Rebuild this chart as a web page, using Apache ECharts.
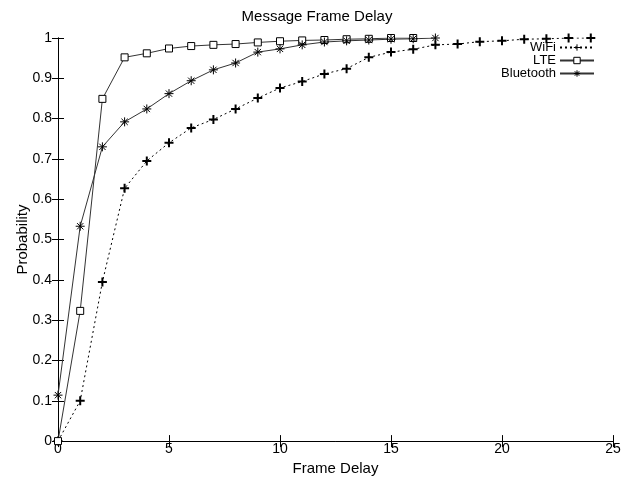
<!DOCTYPE html>
<html><head><meta charset="utf-8">
<script src="https://cdn.jsdelivr.net/npm/echarts@6/dist/echarts.min.js"></script>
<style>html,body{margin:0;padding:0;background:#fff}#c{width:634px;height:481px}</style>
</head><body><div id="c"></div>
<script>
const chartTitle = 'Message Frame Delay';
const xName = 'Frame Delay';
const yName = 'Probability';
const seriesNames = ['WiFi', 'LTE', 'Bluetooth'];
const wifiX = [0,1,2,3,4,5,6,7,8,9,10,11,12,13,14,15,16,17,18,19,20,21,22,23,24];
const wifiY = [0,0.10,0.395,0.627,0.695,0.740,0.777,0.798,0.824,0.851,0.876,0.892,0.911,0.924,0.952,0.965,0.972,0.983,0.985,0.991,0.993,0.997,0.998,1.0,1.0];
const lteX = [0,1,2,3,4,5,6,7,8,9,10,11,12,13,14,15,16];
const lteY = [0,0.323,0.849,0.952,0.962,0.974,0.980,0.983,0.985,0.989,0.992,0.994,0.995,0.997,0.998,1.0,1.0];
const btX = [0,1,2,3,4,5,6,7,8,9,10,11,12,13,14,15,16,17];
const btY = [0.114,0.533,0.730,0.792,0.824,0.862,0.894,0.921,0.938,0.965,0.973,0.983,0.990,0.993,0.995,0.997,0.998,1.0];

const FONT = 'Liberation Sans, Arial, sans-serif';
const pair = (xs, ys) => xs.map((x, i) => [x, ys[i]]);
const plusSym = 'path://M5,0 L5,10 M0,5 L10,5';
const starSym = 'path://M5,0 L5,10 M0,5 L10,5 M1.5,1.5 L8.5,8.5 M1.5,8.5 L8.5,1.5';

const chart = echarts.init(document.getElementById('c'));
const axisLine = {show: true, lineStyle: {color: '#000', width: 1}};
chart.setOption({
  animation: false,
  backgroundColor: '#fff',
  title: {text: chartTitle, left: 'center', top: 4,
    textStyle: {fontFamily: FONT, fontSize: 15, fontWeight: 'normal', color: '#000'}},
  grid: {left: 58, right: 21, top: 38, bottom: 37},
  legend: {
    orient: 'vertical', right: 34, top: 36, align: 'right',
    itemWidth: 34, itemHeight: 8, itemGap: 0,
    itemStyle: {borderWidth: 1},
    textStyle: {fontFamily: FONT, fontSize: 13, color: '#000', lineHeight: 12, padding: [0, -1, 0, 0]},
    data: seriesNames
  },
  xAxis: [{
    type: 'value', min: 0, max: 25, interval: 5,
    name: xName, nameLocation: 'middle', nameGap: 17,
    nameTextStyle: {fontFamily: FONT, fontSize: 15, color: '#000'},
    axisLine: axisLine, splitLine: {show: false},
    axisTick: {inside: true, length: 6, lineStyle: {color: '#000'}},
    axisLabel: {fontFamily: FONT, fontSize: 14, color: '#000', margin: 1}
  }, {
    type: 'value', position: 'top', min: 0, max: 25, interval: 5,
    axisLine: axisLine, splitLine: {show: false},
    axisTick: {inside: true, length: 6, lineStyle: {color: '#000'}},
    axisLabel: {show: false}
  }],
  yAxis: [{
    type: 'value', min: 0, max: 1, interval: 0.1,
    name: yName, nameLocation: 'middle', nameGap: 28, nameMoveOverlap: false,
    nameTextStyle: {fontFamily: FONT, fontSize: 15, color: '#000'},
    axisLine: axisLine, splitLine: {show: false},
    axisTick: {inside: true, length: 6, lineStyle: {color: '#000'}},
    axisLabel: {fontFamily: FONT, fontSize: 14, color: '#000', margin: 6}
  }, {
    type: 'value', position: 'right', min: 0, max: 1, interval: 0.1,
    axisLine: axisLine, splitLine: {show: false},
    axisTick: {inside: true, length: 6, lineStyle: {color: '#000'}},
    axisLabel: {show: false}
  }],
  series: [{
    name: seriesNames[0], type: 'line', data: pair(wifiX, wifiY),
    symbol: plusSym, symbolSize: 9, showAllSymbol: true,
    lineStyle: {color: '#000', width: 1, type: [2, 3]},
    itemStyle: {color: 'none', borderColor: '#000', borderWidth: 2}
  }, {
    name: seriesNames[1], type: 'line', data: pair(lteX, lteY),
    symbol: 'rect', symbolSize: 7, showAllSymbol: true,
    lineStyle: {color: '#333', width: 1},
    itemStyle: {color: '#fff', borderColor: '#000', borderWidth: 1}
  }, {
    name: seriesNames[2], type: 'line', data: pair(btX, btY),
    symbol: starSym, symbolSize: 9, showAllSymbol: true,
    lineStyle: {color: '#333', width: 1},
    itemStyle: {color: 'none', borderColor: '#000', borderWidth: 1}
  }]
});
</script></body></html>
